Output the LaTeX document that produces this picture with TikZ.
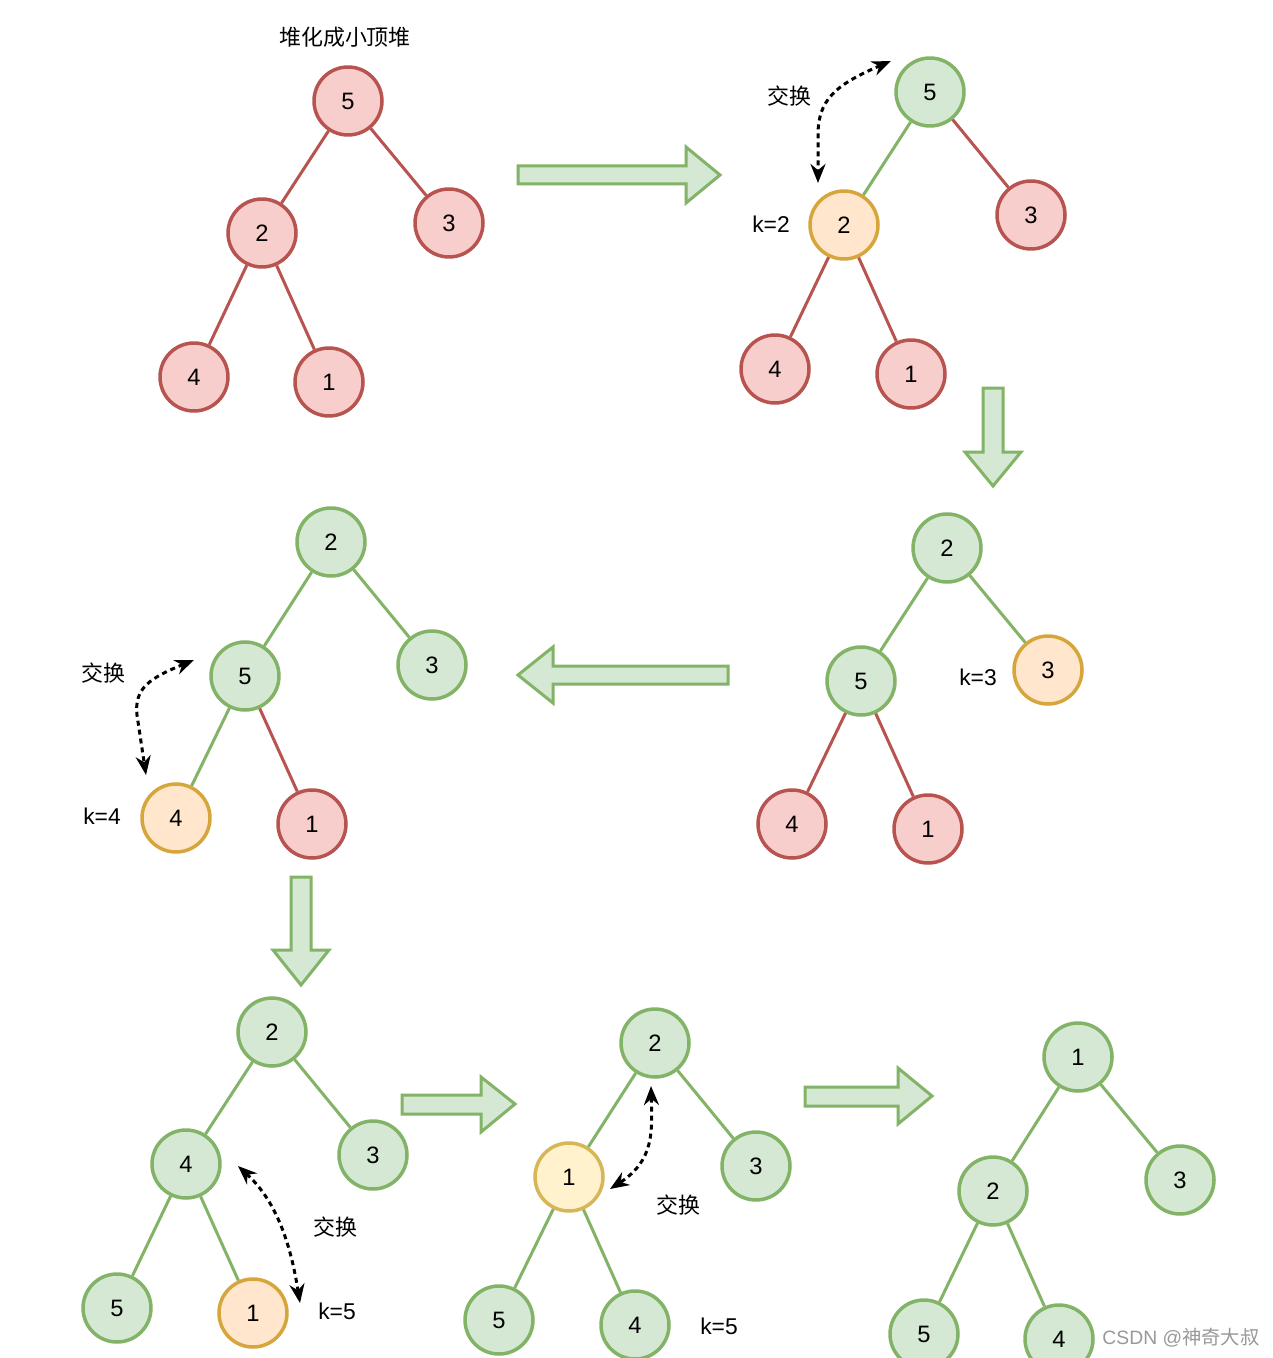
\documentclass[tikz,border=0pt]{standalone}
\usepackage{fontspec}
\setmainfont{Liberation Sans}
\newfontfamily\cjk{Noto Sans CJK SC}
\usetikzlibrary{arrows.meta}
\definecolor{rfill}{HTML}{F8CECC}\definecolor{rline}{HTML}{B85450}
\definecolor{gfill}{HTML}{D5E8D4}\definecolor{gline}{HTML}{82B366}
\definecolor{ofill}{HTML}{FFE6CC}\definecolor{oline}{HTML}{D6A63C}
\definecolor{yfill}{HTML}{FFF2CC}\definecolor{yline}{HTML}{D6B656}
\begin{document}
\begin{tikzpicture}[x=0.02cm,y=-0.02cm,
 nd/.style={circle,minimum size=1.36cm,inner sep=0pt,line width=0.07cm,font=\fontsize{13.5}{15}\selectfont},
 rnode/.style={nd,fill=rfill,draw=rline},
 gnode/.style={nd,fill=gfill,draw=gline},
 onode/.style={nd,fill=ofill,draw=oline},
 ynode/.style={nd,fill=yfill,draw=yline},
 redge/.style={draw=rline,line width=0.06cm},
 gedge/.style={draw=gline,line width=0.06cm},
 lbl/.style={font=\fontsize{13}{15}\selectfont},
 zh/.style={font=\cjk\fontsize{12.5}{15}\selectfont},
 bigarrow/.style={fill=gfill,draw=gline,line width=0.06cm,line join=miter},
 swp/.style={line width=0.06cm,dash pattern=on 0.1cm off 0.08cm,{Stealth[length=0.38cm,width=0.3cm]}-{Stealth[length=0.38cm,width=0.3cm]}}]
\useasboundingbox[fill=white] (0,0) rectangle (1272,1358);

% ---------- tree 1 ----------
\node[zh] (t1title) at (345,37) {堆化成小顶堆};
\node[rnode] (a5) at (348,101) {5};
\node[rnode] (a2) at (262,233) {2};
\node[rnode] (a3) at (449,223) {3};
\node[rnode] (a4) at (194,377) {4};
\node[rnode] (a1) at (329,382) {1};
\draw[redge] (a5) -- (a2);
\draw[redge] (a5) -- (a3);
\draw[redge] (a2) -- (a4);
\draw[redge] (a2) -- (a1);

% ---------- tree 2 ----------
\node[gnode] (b5) at (930,92) {5};
\node[onode] (b2) at (844,225) {2};
\node[rnode] (b3) at (1031,215) {3};
\node[rnode] (b4) at (775,369) {4};
\node[rnode] (b1) at (911,374) {1};
\draw[gedge] (b5) -- (b2);
\draw[redge] (b5) -- (b3);
\draw[redge] (b2) -- (b4);
\draw[redge] (b2) -- (b1);
\node[zh] (bswap) at (789,96) {交换};
\node[lbl] (bk) at (771,224) {k=2};
\coordinate (bs1) at (891,61);
\coordinate (bs2) at (818,183);
\draw[swp] (bs1) .. controls (835,85) and (818,100) .. (818,135) -- (bs2);

% ---------- tree 3 ----------
\node[gnode] (c2) at (947,548) {2};
\node[gnode] (c5) at (861,681) {5};
\node[onode] (c3) at (1048,670) {3};
\node[rnode] (c4) at (792,824) {4};
\node[rnode] (c1) at (928,829) {1};
\draw[gedge] (c2) -- (c5);
\draw[gedge] (c2) -- (c3);
\draw[redge] (c5) -- (c4);
\draw[redge] (c5) -- (c1);
\node[lbl] (ck) at (978,677) {k=3};

% ---------- tree 4 ----------
\node[gnode] (d2) at (331,542) {2};
\node[gnode] (d5) at (245,676) {5};
\node[gnode] (d3) at (432,665) {3};
\node[onode] (d4) at (176,818) {4};
\node[rnode] (d1) at (312,824) {1};
\draw[gedge] (d2) -- (d5);
\draw[gedge] (d2) -- (d3);
\draw[gedge] (d5) -- (d4);
\draw[redge] (d5) -- (d1);
\node[zh] (dswap) at (103,673) {交换};
\node[lbl] (dk) at (102,816) {k=4};
\coordinate (ds1) at (194,660);
\coordinate (ds2) at (146,775);
\draw[swp] (ds1) .. controls (150,678) and (134,688) .. (137,715) -- (ds2);

% ---------- tree 5 ----------
\node[gnode] (e2) at (272,1032) {2};
\node[gnode] (e4) at (186,1164) {4};
\node[gnode] (e3) at (373,1155) {3};
\node[gnode] (e5) at (117,1308) {5};
\node[onode] (e1) at (253,1313) {1};
\draw[gedge] (e2) -- (e4);
\draw[gedge] (e2) -- (e3);
\draw[gedge] (e4) -- (e5);
\draw[gedge] (e4) -- (e1);
\node[zh] (eswap) at (335,1227) {交换};
\node[lbl] (ek) at (337,1311) {k=5};
\coordinate (es1) at (238,1166);
\coordinate (es2) at (300,1303);
\draw[swp] (es1) .. controls (275,1200) and (290,1240) .. (es2);

% ---------- tree 6 ----------
\node[gnode] (f2) at (655,1043) {2};
\node[ynode] (f1) at (569,1177) {1};
\node[gnode] (f3) at (756,1166) {3};
\node[gnode] (f5) at (499,1320) {5};
\node[gnode] (f4) at (635,1325) {4};
\draw[gedge] (f2) -- (f1);
\draw[gedge] (f2) -- (f3);
\draw[gedge] (f1) -- (f5);
\draw[gedge] (f1) -- (f4);
\node[zh] (fswap) at (678,1205) {交换};
\node[lbl] (fk) at (719,1326) {k=5};
\coordinate (fs1) at (651,1086);
\coordinate (fs2) at (610,1189);
\draw[swp] (fs1) .. controls (652,1130) and (655,1160) .. (fs2);

% ---------- tree 7 ----------
\node[gnode] (g1) at (1078,1057) {1};
\node[gnode] (g2) at (993,1191) {2};
\node[gnode] (g3) at (1180,1180) {3};
\node[gnode] (g5) at (924,1334) {5};
\node[gnode] (g4) at (1059,1339) {4};
\draw[gedge] (g1) -- (g2);
\draw[gedge] (g1) -- (g3);
\draw[gedge] (g2) -- (g5);
\draw[gedge] (g2) -- (g4);

% ---------- big arrows ----------
\draw[bigarrow] (518,166) -- (686,166) -- (686,147) -- (720,175) -- (686,203) -- (686,184) -- (518,184) -- cycle;
\draw[bigarrow] (983,388) -- (1003,388) -- (1003,452) -- (1021,452) -- (993,486) -- (965,452) -- (983,452) -- cycle;
\draw[bigarrow] (518,675) -- (553,647) -- (553,666) -- (728,666) -- (728,684) -- (553,684) -- (553,703) -- cycle;
\draw[bigarrow] (291,877) -- (311,877) -- (311,950) -- (329,950) -- (301,985) -- (273,950) -- (291,950) -- cycle;
\draw[bigarrow] (402,1095) -- (481,1095) -- (481,1077) -- (515,1104) -- (481,1132) -- (481,1114) -- (402,1114) -- cycle;
\draw[bigarrow] (805,1087) -- (898,1087) -- (898,1068) -- (932,1096) -- (898,1124) -- (898,1106) -- (805,1106) -- cycle;

% ---------- watermark ----------
\node[font=\fontsize{11}{13}\selectfont,text=black!40,inner sep=0pt] (wm) at (1181,1338) {CSDN @{\cjk 神奇大叔}};
\end{tikzpicture}
\end{document}
